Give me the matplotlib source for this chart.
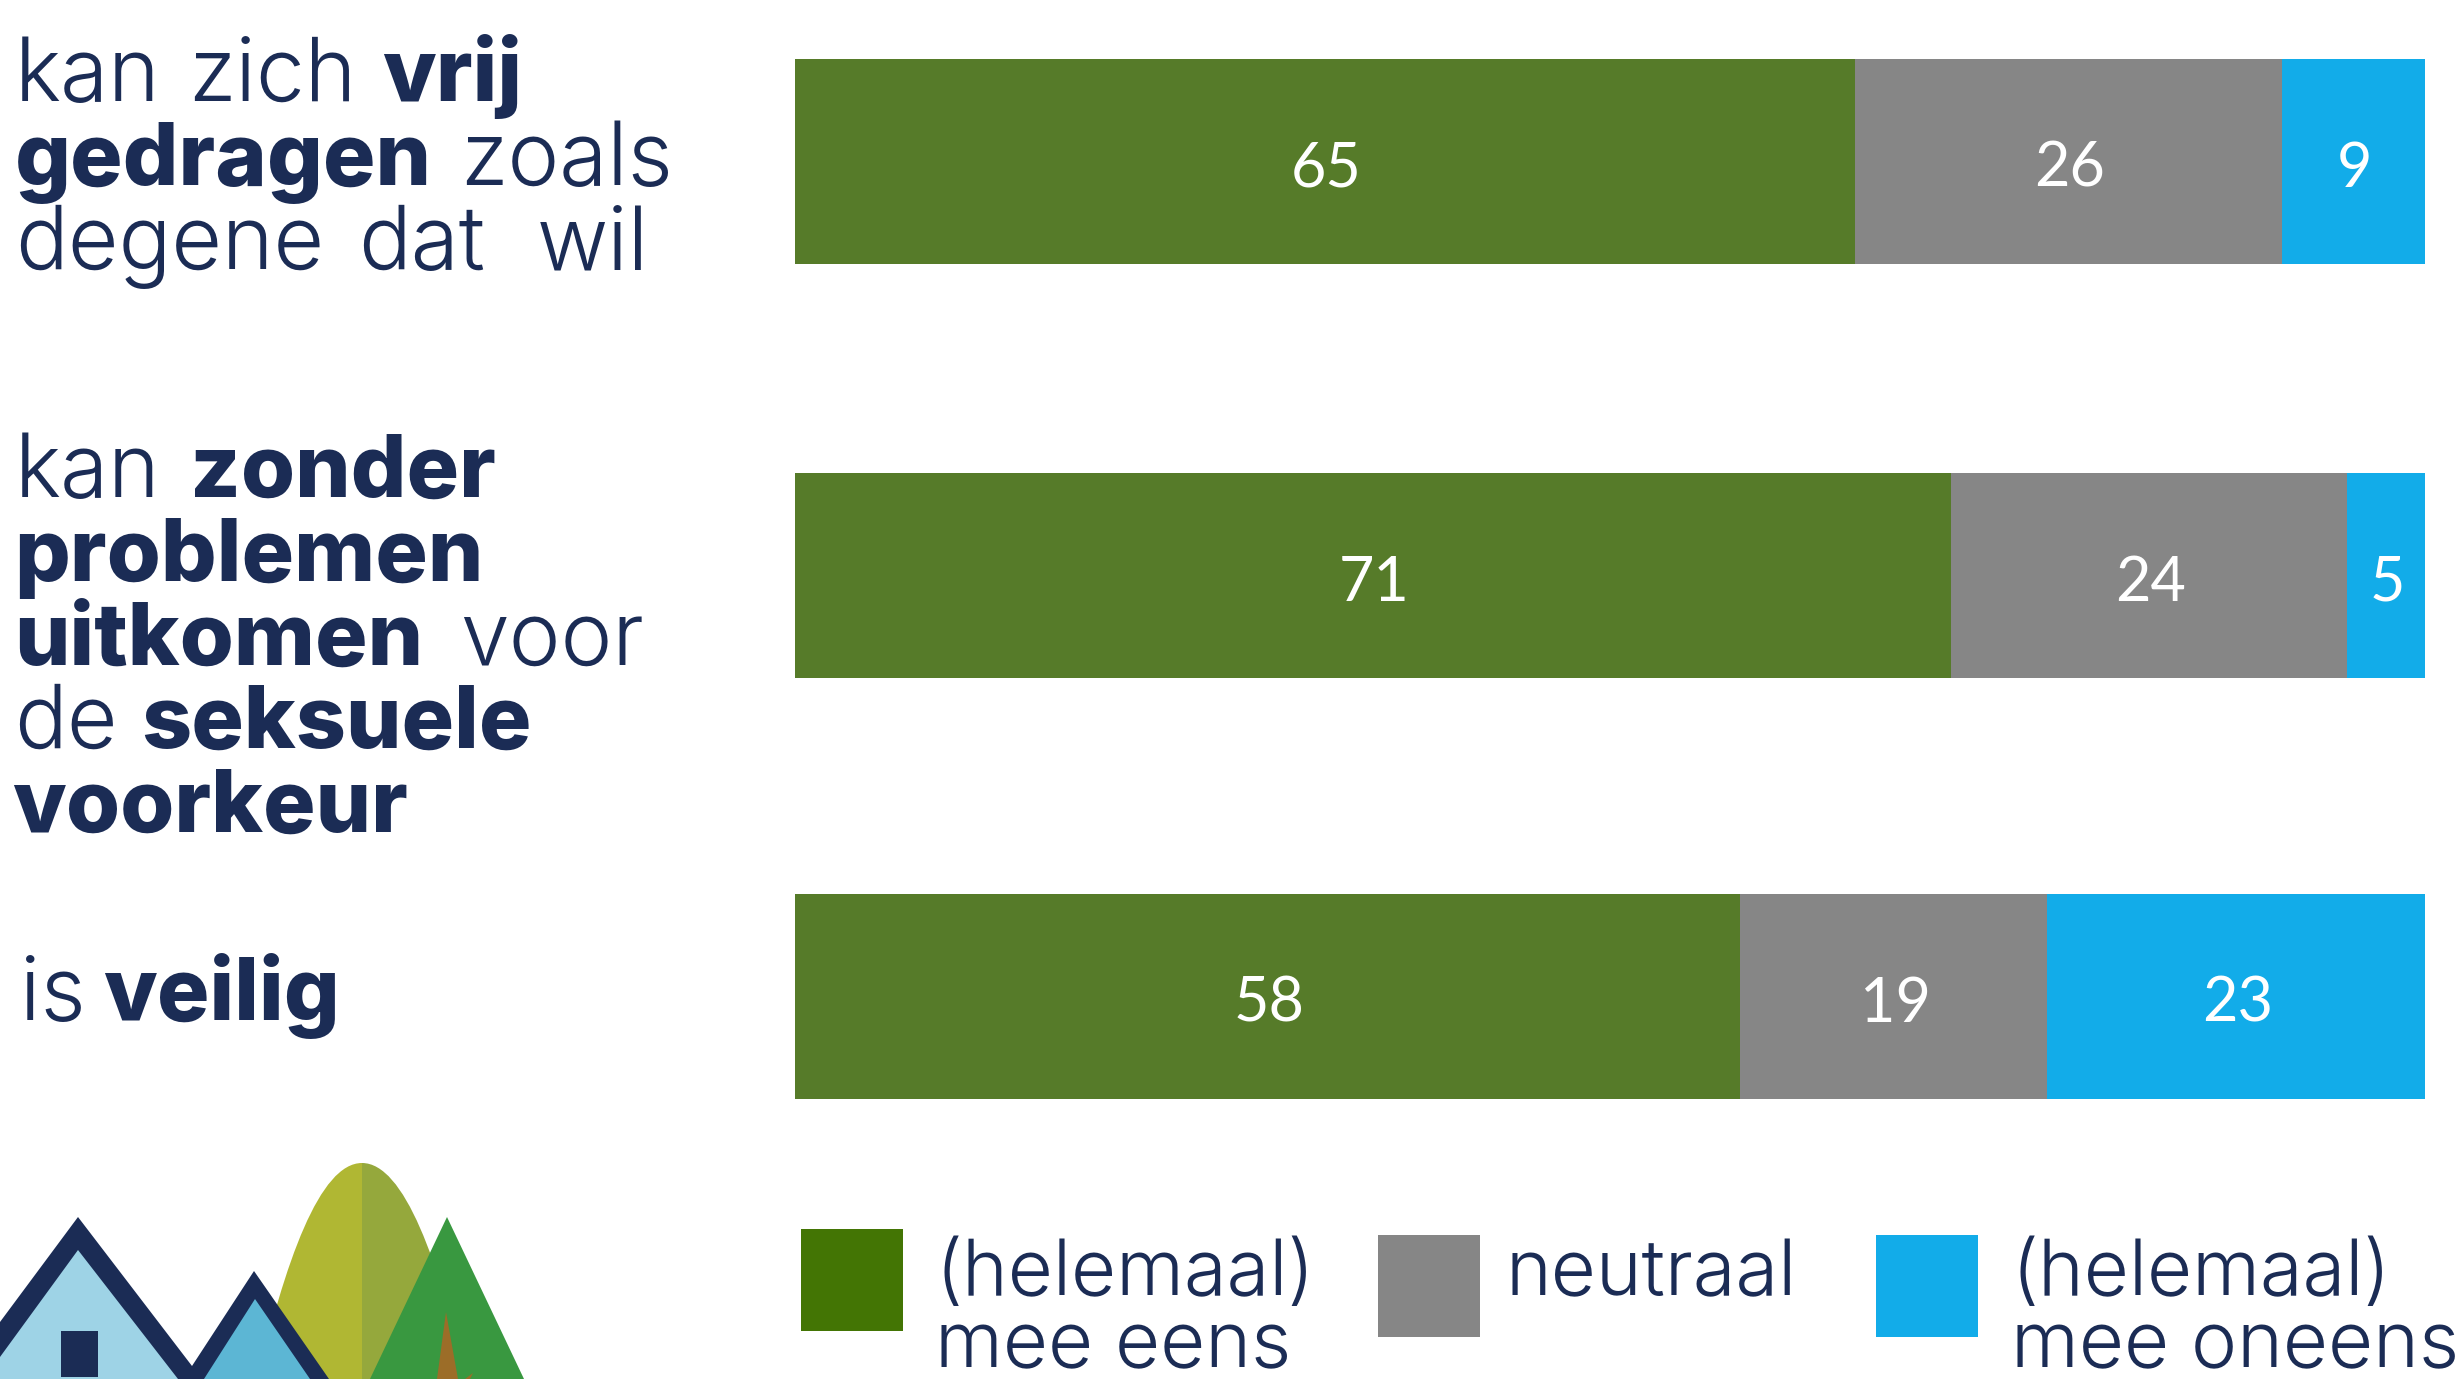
import matplotlib
matplotlib.use("Agg")
import matplotlib.pyplot as plt
from matplotlib.patches import Polygon, Rectangle, PathPatch
from matplotlib.path import Path

eens = [65.0, 70.9, 58.0]
neutraal = [26.2, 24.3, 18.8]
oneens = [8.8, 4.8, 23.2]

legend_labels = [["(helemaal)", "mee eens"], ["neutraal"], ["(helemaal)", "mee oneens"]]

# regels als lijst van (tekst, vet)
label_1 = [
    [("kan", False), ("zich", False), ("vrij", True)],
    [("gedragen", True), ("zoals", False)],
    [("degene", False), ("dat", False), ("wil", False)],
]
label_2 = [
    [("kan", False), ("zonder", True)],
    [("problemen", True)],
    [("uitkomen", True), ("voor", False)],
    [("de", False), ("seksuele", True)],
    [("voorkeur", True)],
]
label_3 = [[("is", False), ("veilig", True)]]

# x van elk woord, los van de tekst
label_1_x = [[15, 188, 382], [15, 460], [15, 358, 537]]
label_2_x = [[15, 190], [14], [14, 460], [14, 141], [12]]
label_3_x = [[20, 103]]

NAVY = "#1b2c55"
GREEN = "#567b29"
GREY = "#868686"
BLUE = "#12ace9"

W, H = 2458, 1379
fig = plt.figure(figsize=(W / 100, H / 100), dpi=100)

# achtergrond-as in pixels, voor teksten en het plaatje
bg = fig.add_axes([0, 0, 1, 1])
bg.set_xlim(0, W)
bg.set_ylim(H, 0)
bg.axis("off")

# de balken
ax = fig.add_axes([795 / W, 0, (2425 - 795) / W, 1])
ax.set_xlim(0, 100)
ax.set_ylim(H, 0)
ax.axis("off")

rows = [161.5, 575.5, 996.5]
left = [0, 0, 0]
for vals, col in [(eens, GREEN), (neutraal, GREY), (oneens, BLUE)]:
    bars = ax.barh(rows, vals, left=left, height=205, color=col, linewidth=0)
    anns = ax.bar_label(bars, labels=[f"{v:.0f}" for v in vals], label_type="center",
                        color="white", fontsize=44, family="Lato")
    for a in anns:
        a.set_verticalalignment("center_baseline")
        a.xyann = (1, -1.5)
    left = [a + b for a, b in zip(left, vals)]


def draw_lines(lines, xs, baselines, size):
    for line, line_x, y in zip(lines, xs, baselines):
        for (s, bold), x in zip(line, line_x):
            bg.text(x, y, s, va="baseline", ha="left", family="Inter", fontsize=size,
                    color=NAVY, weight=800 if bold else 300)


draw_lines(label_1, label_1_x, [101, 185, 269], 63)
draw_lines(label_2, label_2_x, [497, 581, 665, 748, 832], 63)
draw_lines(label_3, label_3_x, [1020], 63)

# legenda
legend_boxes = [(801, 1229, "#437504"), (1378, 1235, GREY), (1876, 1235, BLUE)]
legend_x = [935, 1506, 2011]
for (bx, by, col), lx, lab in zip(legend_boxes, legend_x, legend_labels):
    bg.add_patch(Rectangle((bx, by), 102, 102, color=col, linewidth=0))
    for s, y in zip(lab, [1295, 1367]):
        bg.text(lx, y, s, family="Inter", fontsize=56, weight=300, color=NAVY, va="baseline")

# huisjes en bomen onderaan
codes = [Path.MOVETO, Path.CURVE4, Path.CURVE4, Path.CURVE4, Path.LINETO, Path.CLOSEPOLY]
hill_l = Path([(362, 1163), (320, 1163), (285, 1260), (255, 1390), (362, 1390), (362, 1163)], codes)
hill_r = Path([(362, 1163), (404, 1163), (439, 1260), (469, 1390), (362, 1390), (362, 1163)], codes)
bg.add_patch(PathPatch(hill_l, facecolor="#b0b733", linewidth=0))
bg.add_patch(PathPatch(hill_r, facecolor="#95a83c", linewidth=0))
bg.add_patch(Polygon([(370, 1379), (447, 1217), (524, 1379)], color="#399840", linewidth=0))
bg.add_patch(Polygon([(437, 1379), (446, 1312), (458, 1379)], color="#9c6d28", linewidth=0))
bg.add_patch(Polygon([(465, 1379), (473, 1373), (470, 1379)], color="#9c6d28", linewidth=0))
bg.add_patch(Polygon([(0, 1322), (78, 1217), (192, 1366), (254, 1271), (329, 1379), (0, 1379)],
                     color=NAVY, linewidth=0))
bg.add_patch(Polygon([(0, 1357), (78, 1250), (178, 1379), (0, 1379)], color="#9ed3e6", linewidth=0))
bg.add_patch(Polygon([(204, 1379), (255, 1299), (310, 1379)], color="#5cb6d4", linewidth=0))
bg.add_patch(Rectangle((61, 1331), 37, 46, color=NAVY, linewidth=0))

fig.savefig("out.png", dpi=100)
